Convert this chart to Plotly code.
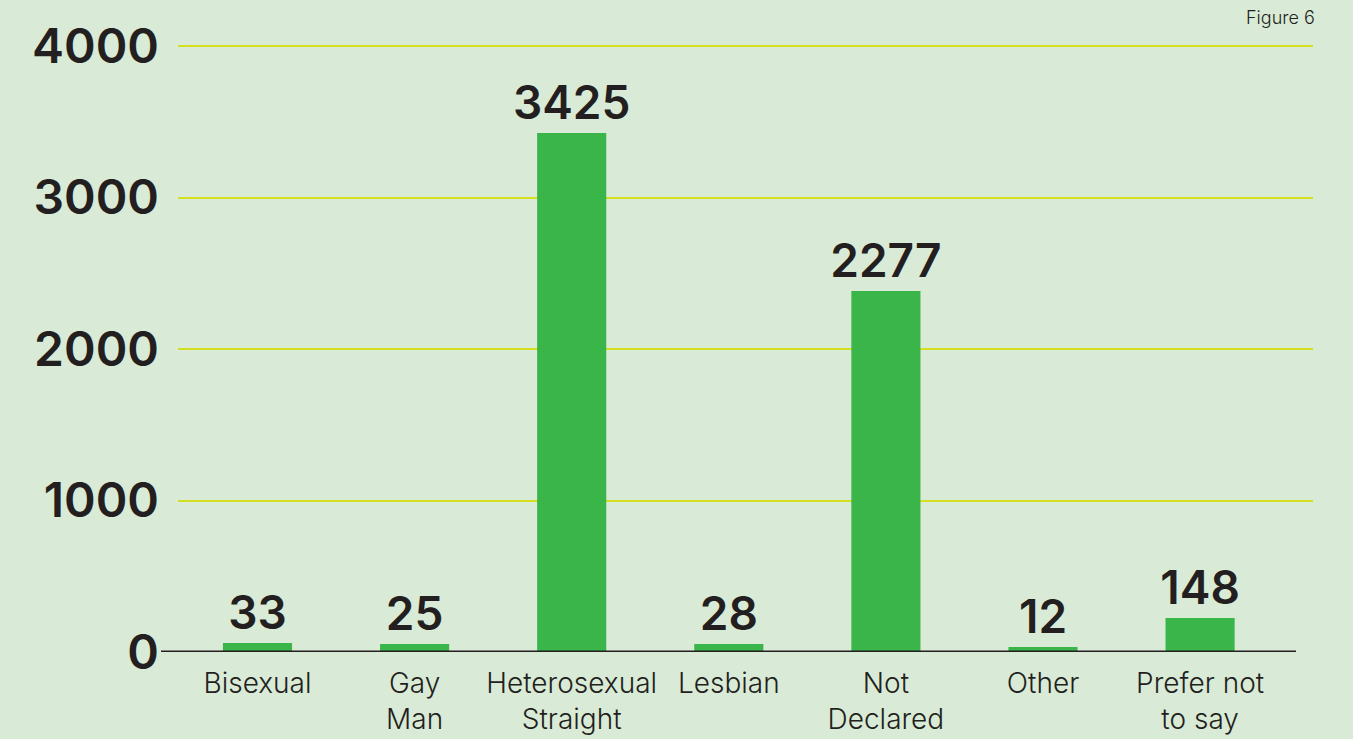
import plotly.graph_objects as go

categories = ["Bisexual", "Gay<br>Man", "Heterosexual<br>Straight", "Lesbian",
              "Not<br>Declared", "Other", "Prefer not<br>to say"]
bar_heights = [59, 53, 3425, 53, 2383, 33, 224]
value_labels = ["33", "25", "3425", "28", "2277", "12", "148"]
y_ticks = [0, 1000, 2000, 3000, 4000]

BG = "#d9ebd6"
BAR = "#3ab54a"
GRID = "#d5df1f"
INK = "#231f20"
NUM_FONT = "Inter"

fig = go.Figure()
fig.add_trace(go.Bar(
    x=categories, y=bar_heights,
    text=value_labels, textposition="outside", constraintext="none",
    textfont=dict(family=NUM_FONT, size=46, color=INK, weight=600),
    marker=dict(color=BAR, line=dict(width=0)),
    width=0.44, cliponaxis=False,
))

W, H = 1353, 739
l, r, t, b = 178, 40, 44, 87
pw = W - l - r
ph = H - t - b
ytop = 4000 * ph / (ph - 2)

fig.update_layout(
    width=W, height=H,
    margin=dict(l=l, r=r, t=t, b=b, autoexpand=False),
    paper_bgcolor=BG, plot_bgcolor=BG,
    showlegend=False,
    xaxis=dict(
        type="category", automargin=False,
        range=[-(257.5 - l) / 157.1, (W - r - 257.5) / 157.1],
        showgrid=False, showline=False, ticks="",
        tickfont=dict(family="Inter", size=28, color=INK, weight=300),
        ticklabelstandoff=12,
    ),
    yaxis=dict(
        automargin=False,
        range=[0, ytop], tickvals=y_ticks,
        showgrid=True, gridcolor=GRID, gridwidth=2,
        zeroline=False, showline=False, ticks="",
        tickfont=dict(family=NUM_FONT, size=48, color=INK, weight=600),
        ticklabelstandoff=18,
    ),
    shapes=[dict(type="line", xref="paper", yref="y",
                 x0=(161 - l) / pw, x1=(1296 - l) / pw, y0=0, y1=0,
                 line=dict(color=INK, width=3), layer="above")],
    annotations=[dict(text="Figure 6", xref="paper", yref="paper",
                      x=(1317 - l) / pw, y=1 + (t - 5) / ph,
                      xanchor="right", yanchor="top", showarrow=False,
                      font=dict(family="Inter", size=18, color=INK, weight=300))],
)

fig.write_html(
    "out.html",
    config={"displayModeBar": False},
    post_script=f"document.body.style.margin='0';document.body.style.background='{BG}';",
)
